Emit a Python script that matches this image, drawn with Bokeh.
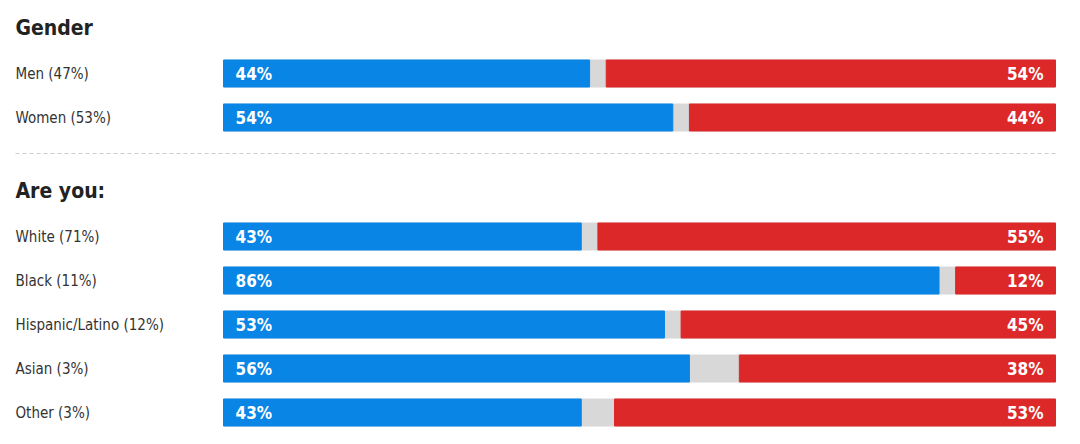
from bokeh.plotting import figure
from bokeh.models import Range1d, ColumnDataSource
from bokeh.core.properties import value
from bokeh.embed import file_html
from bokeh.resources import INLINE

groups = ["Gender", "Are you:"]
labels = [["Men (47%)", "Women (53%)"],
          ["White (71%)", "Black (11%)", "Hispanic/Latino (12%)", "Asian (3%)", "Other (3%)"]]
dem = [[44, 54], [43, 86, 53, 56, 43]]
rep = [[54, 44], [55, 12, 45, 38, 53]]

FONT = "DejaVu Sans Condensed"
BLUE = "#0885E5"
RED = "#DC2828"
GRAY = "#D8D8D8"

W, H = 1064, 428
PX = 8.32  # pixels per percent
x0 = -223 / PX
x1 = x0 + W / PX

p = figure(width=W, height=H, output_backend="svg", toolbar_location=None,
           x_range=Range1d(x0, x1), y_range=Range1d(H, 0), min_border=0)
p.axis.visible = False
p.grid.visible = False
p.outline_line_color = None
p.background_fill_color = "white"

row_y, row_lab, row_d, row_r, head_y = [], [], [], [], []
y = 27
for gi, g in enumerate(groups):
    head_y.append(y)
    y += 46
    for lab, d, r in zip(labels[gi], dem[gi], rep[gi]):
        row_y.append(y); row_lab.append(lab); row_d.append(d); row_r.append(r)
        y += 44
    y += 29

src = ColumnDataSource(dict(
    y=row_y, lab=row_lab, d=row_d, r=row_r,
    zero=[0] * len(row_y), hundred=[100] * len(row_y),
    rstart=[100 - r for r in row_r],
    dlab=[f"{v}%" for v in row_d], rlab=[f"{v}%" for v in row_r],
))

BH = 27
p.hbar(y="y", left="zero", right="hundred", height=BH, source=src, color=GRAY)
p.hbar(y="y", left="zero", right="d", height=BH, source=src, color=BLUE)
p.hbar(y="y", left="rstart", right="hundred", height=BH, source=src, color=RED)

lx = (15 - 223) / PX
p.text(x=lx, y="y", text="lab", source=src, text_font=value(FONT), text_font_size="15px",
       text_color="#333333", text_baseline="middle", text_align="left")
p.text(x=12 / PX, y="y", text="dlab", source=src, text_font=value(FONT), text_font_size="17px",
       text_font_style="bold", text_color="white", text_baseline="middle", text_align="left")
p.text(x=100 - 12 / PX, y="y", text="rlab", source=src, text_font=value(FONT), text_font_size="17px",
       text_font_style="bold", text_color="white", text_baseline="middle", text_align="right")

p.text(x=[lx] * len(groups), y=head_y, text=groups, text_font=value(FONT), text_font_size="21px",
       text_font_style="bold", text_color="#222222", text_baseline="middle", text_align="left")

sep_y = head_y[1] - 37
p.segment(x0=[lx], y0=[sep_y], x1=[100], y1=[sep_y], line_color="#CCCCCC",
          line_dash="4 3", line_width=1)

open("out.html", "w").write(file_html(p, INLINE))
